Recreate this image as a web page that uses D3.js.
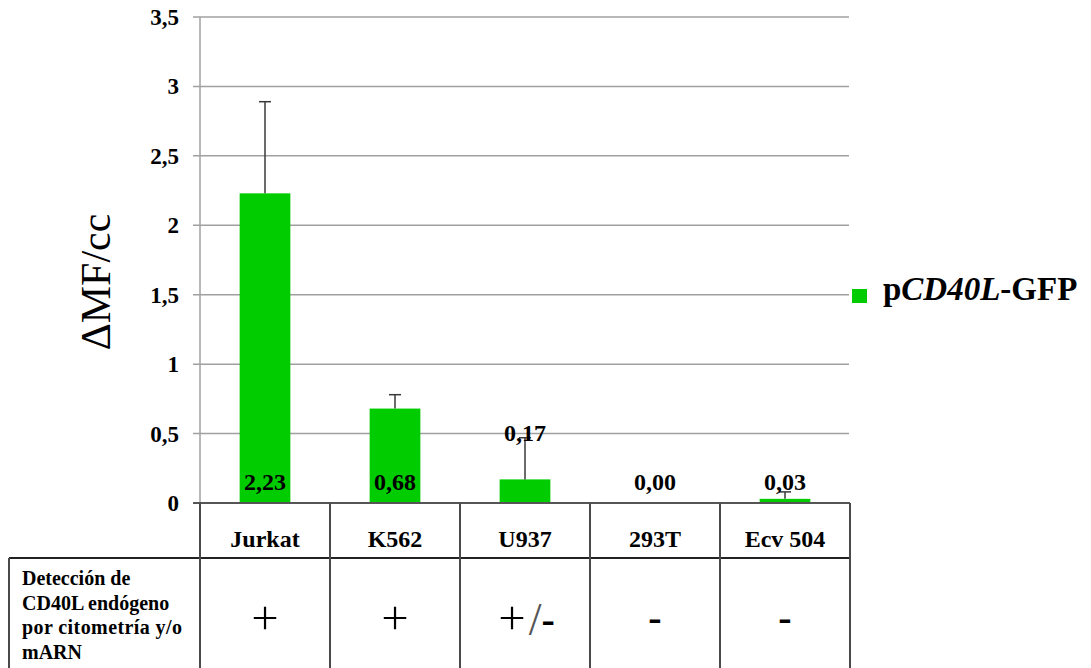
<!DOCTYPE html>
<html>
<head>
<meta charset="utf-8">
<script src="https://cdn.jsdelivr.net/npm/d3@7"></script>
<style>
  html, body { margin: 0; padding: 0; background: #fff; }
  svg { display: block; }
  text { font-family: "Liberation Serif", "Times New Roman", serif; fill: #000; }
  .thin { font-family: "Inter", "Noto Sans", sans-serif; font-weight: 200; }
</style>
</head>
<body>
<svg id="chart" width="1091" height="668"></svg>
<script>
// Cell lines and ΔMF/cc of the pCD40L-GFP reporter
const categories = ["Jurkat", "K562", "U937", "293T", "Ecv 504"];
const values = [2.23, 0.68, 0.17, 0.00, 0.03];
const errorsUp = [0.66, 0.10, 0.30, 0, 0.05];
const yTicks = [0, 0.5, 1, 1.5, 2, 2.5, 3, 3.5];
const yTickLabels = ["0", "0,5", "1", "1,5", "2", "2,5", "3", "3,5"];
// Endogenous CD40L detection per cell line
const detection = ["+", "+", "+/-", "-", "-"];
const rowTitle = ["Detección de", "CD40L endógeno", "por citometría y/o", "mARN"];
const seriesName = ["p", "CD40L", "-GFP"];

const green = "#00cc00";
const svg = d3.select("#chart");

const x = d3.scaleBand().domain(categories).range([200, 850]).paddingInner(0).paddingOuter(0);
const y = d3.scaleLinear().domain([0, 3.5]).range([503, 17]);
const barW = x.bandwidth() * 0.39;

// gridlines + ticks
const grid = svg.append("g");
grid.selectAll("line").data(yTicks.slice(1)).join("line")
  .attr("x1", 193).attr("x2", 849)
  .attr("y1", d => y(d)).attr("y2", d => y(d))
  .attr("stroke", "#a0a0a0").attr("stroke-width", 1.5);

// vertical value axis
svg.append("line").attr("x1", 200).attr("x2", 200).attr("y1", y(3.5)).attr("y2", y(0))
  .attr("stroke", "#a0a0a0").attr("stroke-width", 1.5);

// tick labels
svg.append("g").selectAll("text").data(yTicks).join("text")
  .attr("x", 179).attr("y", d => y(d) + 8)
  .attr("text-anchor", "end")
  .attr("font-size", 23).attr("font-weight", "bold")
  .text((d, i) => yTickLabels[i]);

// bars
svg.append("g").selectAll("rect").data(values).join("rect")
  .attr("x", (d, i) => x(categories[i]) + x.bandwidth() / 2 - barW / 2)
  .attr("width", barW)
  .attr("y", d => y(d))
  .attr("height", d => y(0) - y(d))
  .attr("fill", green);

// error bars (upper only)
const eb = svg.append("g").attr("stroke", "#3a3a3a").attr("stroke-width", 1.5);
values.forEach((v, i) => {
  if (errorsUp[i] <= 0) return;
  const cx = x(categories[i]) + x.bandwidth() / 2;
  eb.append("line").attr("x1", cx).attr("x2", cx).attr("y1", y(v)).attr("y2", y(v + errorsUp[i]));
  eb.append("line").attr("x1", cx - 6).attr("x2", cx + 6).attr("y1", y(v + errorsUp[i])).attr("y2", y(v + errorsUp[i]));
});

// value labels
const fmt = d => d3.format(".2f")(d).replace(".", ",");
svg.append("g").selectAll("text").data(values).join("text")
  .attr("x", (d, i) => x(categories[i]) + x.bandwidth() / 2)
  .attr("y", (d, i) => categories[i] === "U937" ? y(d + errorsUp[i]) + 3 : y(0) - 13)
  .attr("text-anchor", "middle")
  .attr("font-size", 24).attr("font-weight", "bold")
  .text(d => fmt(d));

// table
const tbl = svg.append("g").attr("stroke", "#4a4a4a").attr("stroke-width", 2).attr("fill", "none");
tbl.append("line").attr("x1", 193).attr("x2", 850).attr("y1", 503).attr("y2", 503).attr("stroke", "#555");
tbl.append("line").attr("x1", 9).attr("x2", 850).attr("y1", 558).attr("y2", 558).attr("stroke", "#222");
tbl.append("line").attr("x1", 9).attr("x2", 9).attr("y1", 558).attr("y2", 668);
const edges = categories.map(c => x(c)).concat([x.range()[1]]);
tbl.selectAll("line.v").data(edges).join("line").attr("class", "v")
  .attr("x1", d => d).attr("x2", d => d).attr("y1", 503).attr("y2", 668);

// category names
svg.append("g").selectAll("text").data(categories).join("text")
  .attr("x", d => x(d) + x.bandwidth() / 2)
  .attr("y", 547)
  .attr("text-anchor", "middle")
  .attr("font-size", 24).attr("font-weight", "bold")
  .text(d => d);

// row title
svg.append("g").selectAll("text").data(rowTitle).join("text")
  .attr("x", 22)
  .attr("y", (d, i) => 585 + i * 24.5)
  .attr("font-size", 20).attr("font-weight", "bold")
  .each(function (d, i) {
    if (i === 2) d3.select(this).attr("textLength", 160).attr("lengthAdjust", "spacing");
  })
  .text(d => d);

// detection symbols: thin "+" and "/", bold "-"
const det = svg.append("g").selectAll("text").data(detection).join("text")
  .attr("x", (d, i) => x(categories[i]) + x.bandwidth() / 2)
  .attr("y", 633)
  .attr("text-anchor", "middle")
  .attr("font-size", 46);
det.each(function (d) {
  const t = d3.select(this);
  d.split("").forEach(ch => {
    const s = t.append("tspan").text(ch);
    if (ch === "-") s.attr("font-weight", "bold").attr("font-size", 40).attr("dy", -2);
    else if (ch === "+") s.attr("class", "thin").attr("font-size", 52);
    else s.attr("font-size", 46).attr("fill", "#555").attr("dy", 2);
  });
});

// y axis title
svg.append("text")
  .attr("transform", "translate(110,282) rotate(-90)")
  .attr("text-anchor", "middle")
  .attr("font-size", 42)
  .text("ΔMF/cc");

// legend
svg.append("rect").attr("x", 852).attr("y", 289).attr("width", 15).attr("height", 14).attr("fill", green);
const lg = svg.append("text").attr("x", 883).attr("y", 300)
  .attr("font-size", 33).attr("font-weight", "bold");
seriesName.forEach((s, i) => {
  lg.append("tspan").attr("font-style", i === 1 ? "italic" : "normal").text(s);
});
</script>
</body>
</html>
